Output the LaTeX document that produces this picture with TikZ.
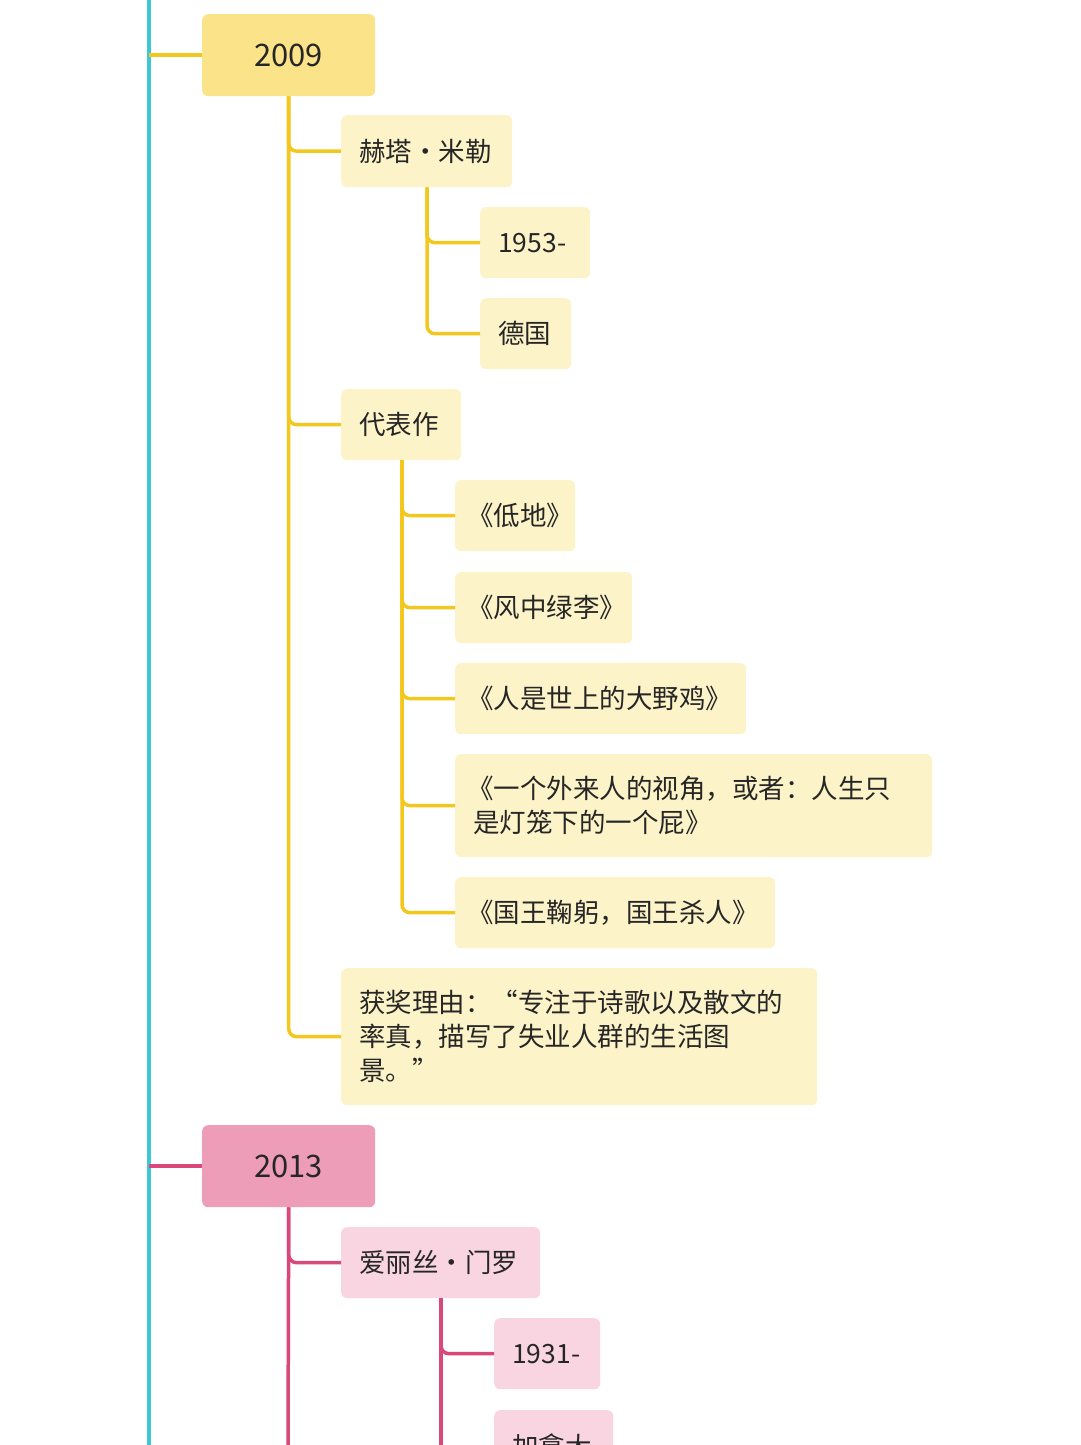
\documentclass[tikz,border=0pt]{standalone}
\usepackage{fontspec}
\setmainfont{Noto Sans CJK SC}
\begin{document}
\begin{tikzpicture}[x=1pt,y=-1pt,
  box/.style={anchor=north west, rounded corners=6pt, inner xsep=18pt, inner ysep=0pt, align=left, font=\fontsize{26.5}{34}\selectfont, text=black!85},
  ysub/.style={box, fill=ylt},
  psub/.style={box, fill=plt},
  year/.style={box, inner sep=0pt, align=center, font=\fontsize{31}{36}\selectfont, minimum width=173pt, minimum height=82pt},
  yline/.style={draw=ycol, line width=3.5pt, rounded corners=8pt},
  pline/.style={draw=pcol, line width=3.5pt, rounded corners=8pt}]
\definecolor{cy}{HTML}{3CC8D8}
\definecolor{ycol}{HTML}{F2C81E}
\definecolor{ylt}{HTML}{FDF3C8}
\definecolor{yhd}{HTML}{FBE38A}
\definecolor{pcol}{HTML}{D9487A}
\definecolor{plt}{HTML}{F8D5E0}
\definecolor{phd}{HTML}{EE9DB8}
\useasboundingbox (0,0) rectangle (1080,1445);
\clip (0,0) rectangle (1080,1445);
\fill[white] (0,0) rectangle (1080,1445);
\coordinate (axtop) at (149,0);
\coordinate (axbot) at (149,1445);
\draw[draw=cy, line width=3.5pt] (axtop) -- (axbot);

% 2009
\node[year, fill=yhd] (y09) at (202,14) {2009};
\draw[draw=ycol, line width=3.5pt] (y09.west) -- ++(-53,0);
\node[ysub, text width=135pt, minimum height=72pt] (a1) at (341,115) {赫塔·米勒};
\node[ysub, text width=74pt, minimum height=71pt] (a11) at (480,207) {1953-};
\node[ysub, text width=55pt, minimum height=71pt] (a12) at (480,298) {德国};
\node[ysub, text width=84pt, minimum height=71pt] (a2) at (341,389) {代表作};
\node[ysub, inner xsep=12pt, text width=96pt, minimum height=71pt] (b1) at (455,480) {《低地》};
\node[ysub, inner xsep=12pt, text width=153pt, minimum height=71pt] (b2) at (455,572) {《风中绿李》};
\node[ysub, inner xsep=12pt, text width=267pt, minimum height=71pt] (b3) at (455,663) {《人是世上的大野鸡》};
\node[ysub, inner xsep=12pt, text width=453pt, minimum height=103pt] (b4) at (455,754) {《一个外来人的视角，或者：人生只\\\hspace*{6pt}是灯笼下的一个屁》};
\node[ysub, inner xsep=12pt, text width=296pt, minimum height=71pt] (b5) at (455,877) {《国王鞠躬，国王杀人》};
\node[ysub, text width=440pt, minimum height=137pt] (a3) at (341,968) {获奖理由：“专注于诗歌以及散文的\\率真，描写了失业人群的生活图\\景。”};

\draw[yline] (y09.south) |- (a1.west);
\draw[yline] (y09.south) |- (a2.west);
\draw[yline] (y09.south) |- (a3.west);
\draw[yline] (a1.south west)++(86,0) |- (a11.west);
\draw[yline] (a1.south west)++(86,0) |- (a12.west);
\draw[yline] (a2.south west)++(61,0) |- (b1.west);
\draw[yline] (a2.south west)++(61,0) |- (b2.west);
\draw[yline] (a2.south west)++(61,0) |- (b3.west);
\draw[yline] (a2.south west)++(61,0) |- (b4.west);
\draw[yline] (a2.south west)++(61,0) |- (b5.west);

% 2013
\node[year, fill=phd] (y13) at (202,1125) {2013};
\draw[draw=pcol, line width=3.5pt] (y13.west) -- ++(-53,0);
\node[psub, text width=163pt, minimum height=71pt] (c1) at (341,1227) {爱丽丝·门罗};
\node[psub, text width=70pt, minimum height=71pt] (c11) at (494,1318) {1931-};
\node[psub, text width=83pt, minimum height=71pt] (c12) at (494,1410) {加拿大};
\coordinate (pend) at (288,1450);
\draw[pline] (y13.south) -- (pend);
\draw[pline] (y13.south) |- (c1.west);
\draw[pline] (c1.south west)++(100,0) |- (c11.west);
\draw[pline] (c1.south west)++(100,0) -- ++(0,160);
\end{tikzpicture}
\end{document}
